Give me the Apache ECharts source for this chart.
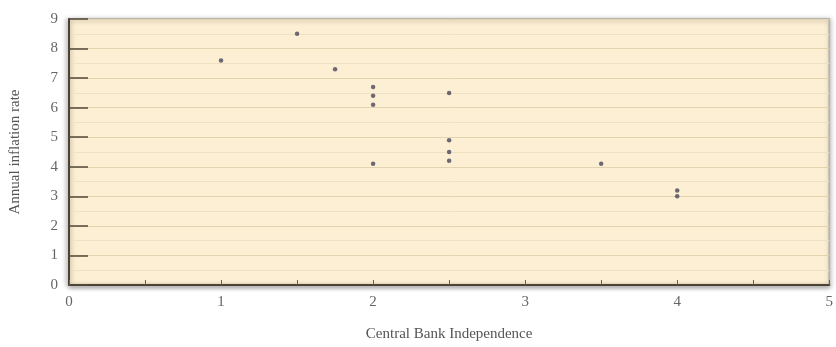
<!DOCTYPE html>
<html>
<head>
<meta charset="utf-8">
<script src="https://cdn.jsdelivr.net/npm/echarts@6/dist/echarts.min.js"></script>
<style>
html,body{margin:0;padding:0;background:#ffffff;}
#chart{width:836px;height:347px;}
</style>
</head>
<body>
<div id="chart"></div>
<script>
const independence = [1, 1.5, 1.75, 2, 2, 2, 2, 2.5, 2.5, 2.5, 2.5, 3.5, 4, 4];
const inflation = [7.6, 8.5, 7.3, 6.7, 6.4, 6.1, 4.1, 6.5, 4.9, 4.5, 4.2, 4.1, 3.2, 3.0];
const xTicks = [0, 1, 2, 3, 4, 5];
const yTicks = [0, 1, 2, 3, 4, 5, 6, 7, 8, 9];
const xName = 'Central Bank Independence';
const yName = 'Annual inflation rate';

const points = independence.map((x, i) => [x, inflation[i]]);
const chart = echarts.init(document.getElementById('chart'));
const serif = '"Liberation Serif", "DejaVu Serif", serif';
chart.setOption({
  animation: false,
  backgroundColor: '#ffffff',
  grid: {
    left: 66, right: 3, top: 19, bottom: 57,
    show: true,
    backgroundColor: '#fdefd3',
    borderColor: '#b9b6ae',
    borderWidth: 2,
    shadowColor: 'rgba(0,0,0,0.25)',
    shadowBlur: 5,
    shadowOffsetX: 1,
    shadowOffsetY: 1
  },
  xAxis: {
    type: 'value',
    min: xTicks[0], max: xTicks[xTicks.length - 1], interval: 1,
    name: xName,
    nameLocation: 'middle',
    nameGap: 42,
    nameTextStyle: { fontFamily: serif, fontSize: 15, color: '#555' },
    axisLine: { show: true, onZero: false, lineStyle: { color: '#4a4332', width: 2, shadowColor: 'rgba(0,0,0,0.35)', shadowBlur: 4, shadowOffsetY: 2 } },
    axisTick: { show: true, inside: true, length: 5, lineStyle: { color: '#6a6250' } },
    minorTick: { show: true, splitNumber: 2, length: 5, lineStyle: { color: '#6a6250' } },
    axisLabel: { fontFamily: serif, fontSize: 15, color: '#666', margin: 10 },
    splitLine: { show: false }
  },
  yAxis: {
    type: 'value',
    min: yTicks[0], max: yTicks[yTicks.length - 1], interval: 1,
    name: yName,
    nameLocation: 'middle',
    nameGap: 46,
    nameTextStyle: { fontFamily: serif, fontSize: 15, color: '#555' },
    axisLine: { show: true, onZero: false, lineStyle: { color: '#4a4332', width: 2, shadowColor: 'rgba(0,0,0,0.35)', shadowBlur: 4, shadowOffsetX: -2 } },
    axisTick: { show: true, inside: true, length: 19, lineStyle: { color: '#4f4a38', width: 1.5 } },
    minorTick: { show: false, splitNumber: 2 },
    axisLabel: { fontFamily: serif, fontSize: 15, color: '#666', margin: 11 },
    splitLine: { show: true, lineStyle: { color: '#e3d3b0', width: 1 } },
    minorSplitLine: { show: true, lineStyle: { color: '#efe2c4', width: 1 } }
  },
  series: [{
    type: 'scatter',
    data: points,
    symbol: 'circle',
    symbolSize: 4.5,
    itemStyle: { color: '#48465a' }
  }]
});
</script>
</body>
</html>
